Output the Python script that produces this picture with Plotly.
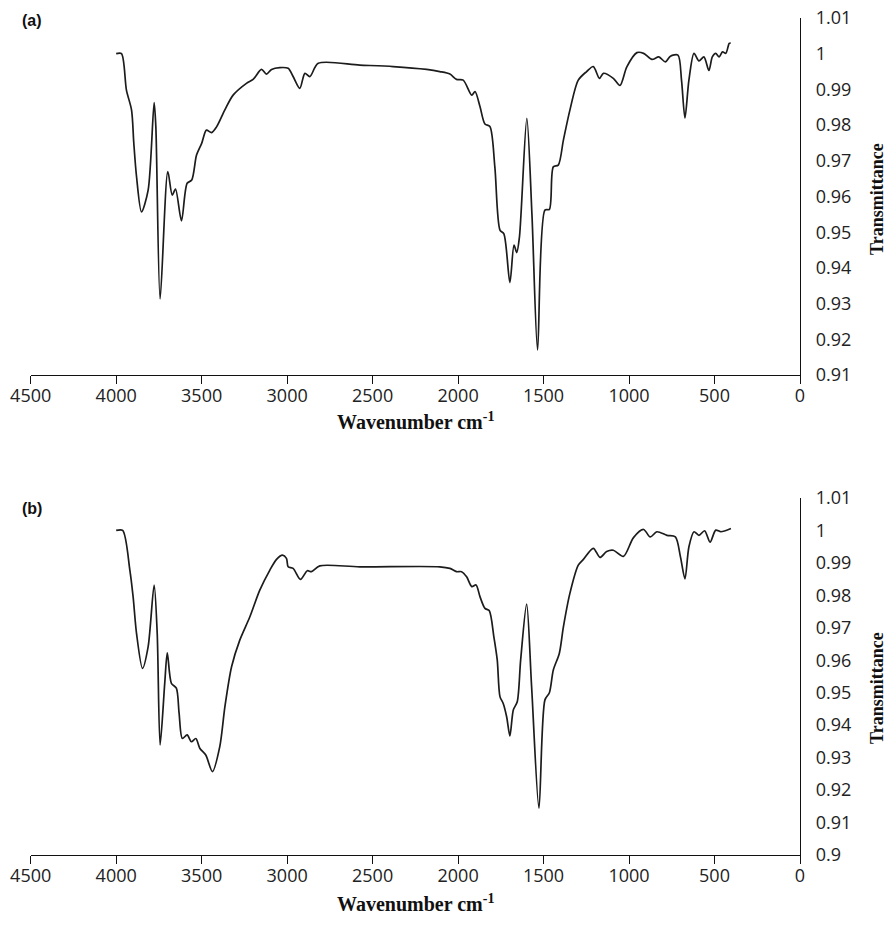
import plotly.graph_objects as go

# ---- data ----
wn_a = [4000, 3969, 3940, 3910, 3897, 3881, 3852, 3813, 3778, 3768, 3743, 3698, 3672, 3653,
        3618, 3585, 3558, 3530, 3500, 3472, 3442, 3413, 3365, 3316, 3238, 3199, 3150, 3121,
        3091, 3043, 2994, 2965, 2926, 2896, 2867, 2818, 2575, 2380, 2184, 2107, 2048, 2009,
        1970, 1920, 1901, 1872, 1843, 1814, 1785, 1755, 1732, 1697, 1673, 1657, 1641, 1598,
        1568, 1535, 1492, 1466, 1443, 1414, 1384, 1346, 1297, 1248, 1209, 1173, 1150, 1092,
        1053, 1013, 954, 915, 866, 826, 787, 758, 714, 693, 673, 650, 620, 591, 562, 533,
        513, 493, 473, 453, 434, 414, 405]
t_a = [1.000, 1.000, 0.9898, 0.9842, 0.975, 0.9656, 0.9557, 0.9618, 0.9863, 0.9795, 0.9313,
       0.967, 0.9604, 0.9621, 0.9532, 0.9637, 0.9646, 0.9716, 0.9749, 0.9786, 0.9779, 0.9795,
       0.9842, 0.9884, 0.9917, 0.9928, 0.9956, 0.9943, 0.9956, 0.9961, 0.9959, 0.9936, 0.9903,
       0.9945, 0.9936, 0.9973, 0.9968, 0.9964, 0.9956, 0.9950, 0.9943, 0.9928, 0.9926, 0.9884,
       0.9894, 0.9852, 0.9803, 0.9796, 0.9683, 0.9506, 0.9495, 0.9359, 0.9464, 0.9443, 0.9487,
       0.9819, 0.955, 0.917, 0.9562, 0.9564, 0.9683, 0.9688, 0.9758, 0.9842, 0.9926, 0.9950,
       0.9964, 0.9931, 0.9945, 0.9931, 0.9911, 0.9963, 1.0003, 1.0001, 0.9984, 0.9991, 0.9977,
       0.9993, 0.9996, 0.9925, 0.9820, 0.9925, 1.0001, 0.9980, 0.9991, 0.9953, 0.9991, 1.0001,
       0.9991, 1.0005, 1.0001, 1.0029, 1.0030]

wn_b = [4000, 3962, 3920, 3901, 3881, 3846, 3813, 3778, 3760, 3743, 3716, 3701, 3677, 3648,
        3632, 3613, 3585, 3560, 3534, 3511, 3476, 3437, 3394, 3364, 3325, 3277, 3218, 3160,
        3101, 3062, 3027, 3004, 2994, 2965, 2922, 2882, 2858, 2809, 2575, 2107, 2048, 2009,
        1980, 1950, 1920, 1895, 1872, 1843, 1818, 1791, 1771, 1755, 1736, 1716, 1697, 1677,
        1654, 1634, 1599, 1570, 1527, 1492, 1466, 1443, 1408, 1384, 1346, 1297, 1267, 1209,
        1170, 1131, 1092, 1033, 974, 915, 876, 837, 778, 729, 699, 673, 650, 620, 591, 558,
        526, 493, 463, 404]
t_b = [1.000, 1.000, 0.9878, 0.9796, 0.9683, 0.9575, 0.9642, 0.9832, 0.9683, 0.9339, 0.9529,
       0.9623, 0.9529, 0.9514, 0.9437, 0.9359, 0.9370, 0.9349, 0.9359, 0.9329, 0.9308, 0.9257,
       0.9334, 0.9457, 0.9580, 0.9662, 0.9734, 0.9816, 0.9878, 0.9911, 0.9924, 0.9914, 0.9888,
       0.9883, 0.9849, 0.9876, 0.9873, 0.9891, 0.9888, 0.9888, 0.9883, 0.9873, 0.9873, 0.9857,
       0.9827, 0.9832, 0.9796, 0.9760, 0.9753, 0.9673, 0.9601, 0.9488, 0.9467, 0.9426, 0.9367,
       0.9447, 0.9472, 0.9601, 0.9773, 0.9519, 0.9144, 0.9478, 0.9500, 0.9570, 0.9621, 0.9703,
       0.9806, 0.9893, 0.9911, 0.9945, 0.9917, 0.9935, 0.9939, 0.9920, 0.9978, 1.0003, 0.9980,
       0.9996, 0.9985, 0.9980, 0.9918, 0.9851, 0.9949, 0.9996, 0.9985, 0.9999, 0.9964, 1.0001,
       0.9996, 1.0006]

x_ticks = [4500, 4000, 3500, 3000, 2500, 2000, 1500, 1000, 500, 0]
y_ticks_a = [0.91, 0.92, 0.93, 0.94, 0.95, 0.96, 0.97, 0.98, 0.99, 1.00, 1.01]
y_text_a = ["0.91", "0.92", "0.93", "0.94", "0.95", "0.96", "0.97", "0.98", "0.99", "1", "1.01"]
y_ticks_b = [0.90] + y_ticks_a
y_text_b = ["0.9"] + y_text_a

W, H = 894, 926
LINE = "#1c1c1c"
TICKFONT = dict(family="Open Sans", size=18, color="#222")

fig = go.Figure()
fig.add_trace(go.Scatter(x=wn_a, y=t_a, mode="lines", xaxis="x", yaxis="y",
                         line=dict(color=LINE, width=1.7, shape="spline", smoothing=0.8),
                         showlegend=False, hoverinfo="skip"))
fig.add_trace(go.Scatter(x=wn_b, y=t_b, mode="lines", xaxis="x2", yaxis="y2",
                         line=dict(color=LINE, width=1.7, shape="spline", smoothing=0.8),
                         showlegend=False, hoverinfo="skip"))

x_dom = [30.7 / W, 800 / W]
ya_dom = [1 - 375 / H, 1 - 18 / H]
yb_dom = [1 - 855 / H, 1 - 498 / H]

def xaxis(anchor):
    return dict(domain=x_dom, anchor=anchor, range=[4500, 0], tickvals=x_ticks,
                ticktext=[str(v) for v in x_ticks], showgrid=False, zeroline=False,
                showline=True, linecolor="#111", linewidth=1.4, ticks="outside",
                ticklen=8, tickwidth=1.4, tickcolor="#111", tickfont=TICKFONT,
                ticklabelstandoff=-4, automargin=False)

def yaxis(anchor, dom, rng, vals, txt):
    return dict(domain=dom, anchor=anchor, side="right", range=rng, tickvals=vals,
                ticktext=txt, showgrid=False, zeroline=False, showline=True,
                linecolor="#111", linewidth=1.4, ticks="", tickfont=TICKFONT,
                ticklabelstandoff=11, automargin=False)

fig.update_layout(
    width=W, height=H, margin=dict(l=0, r=0, t=0, b=0, autoexpand=False),
    paper_bgcolor="white", plot_bgcolor="white",
    xaxis=xaxis("y"), yaxis=yaxis("x", ya_dom, [0.91, 1.01], y_ticks_a, y_text_a),
    xaxis2=xaxis("y2"), yaxis2=yaxis("x2", yb_dom, [0.90, 1.01], y_ticks_b, y_text_b),
)

TITLE_FONT = dict(family="Liberation Serif", size=20, color="#111")
ann = []
for ytitle, ylab, ypanel, ycen in [(421, "(a)", 20, 199), (903, "(b)", 508, 688)]:
    ann.append(dict(text="<b>Wavenumber cm<sup>-1</sup></b>", x=415 / W, y=1 - ytitle / H,
                    xref="paper", yref="paper", showarrow=False, font=TITLE_FONT,
                    xanchor="center", yanchor="middle"))
    ann.append(dict(text="<b>Transmittance</b>", x=877 / W, y=1 - ycen / H,
                    xref="paper", yref="paper", showarrow=False, textangle=-90,
                    font=dict(family="Liberation Serif", size=18, color="#111"),
                    xanchor="center", yanchor="middle"))
    ann.append(dict(text="<b>" + ylab + "</b>", x=20 / W, y=1 - ypanel / H,
                    xref="paper", yref="paper", showarrow=False,
                    font=dict(family="Liberation Sans", size=16, color="#111"),
                    xanchor="left", yanchor="middle"))
fig.update_layout(annotations=ann)

fig.write_html("out.html")
